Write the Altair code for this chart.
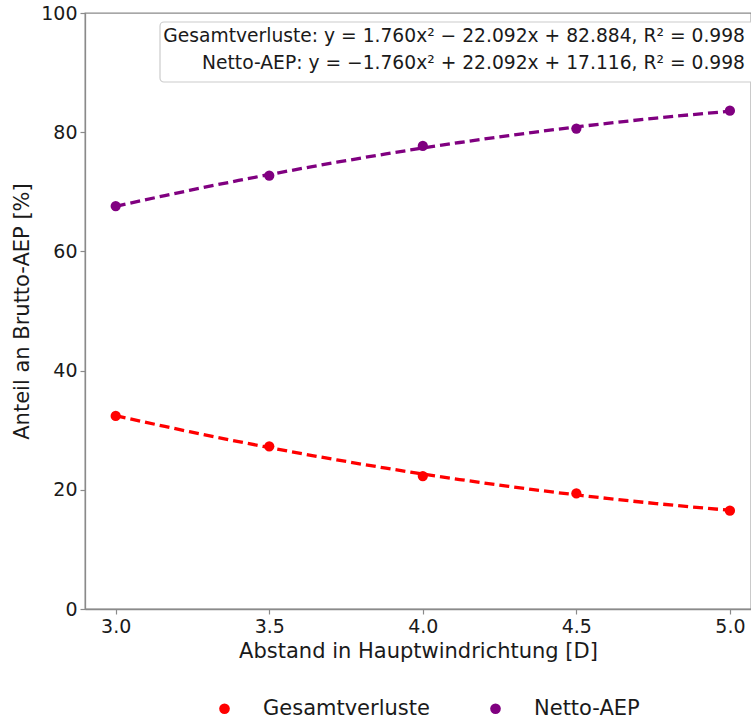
import altair as alt
import pandas as pd

# --- data ---
abstand = [3.0, 3.5, 4.0, 4.5, 5.0]
gesamtverluste = [32.4, 27.3, 22.3, 19.4, 16.5]
netto_aep = [67.6, 72.7, 77.7, 80.6, 83.6]
series_names = ["Gesamtverluste", "Netto-AEP"]
series_colors = ["#ff0000", "#800080"]
x_ticks = [3.0, 3.5, 4.0, 4.5, 5.0]
y_ticks = [0, 20, 40, 60, 80, 100]
annot_lines = [
    "Gesamtverluste: y = 1.760x² − 22.092x + 82.884, R² = 0.998",
    "Netto-AEP: y = −1.760x² + 22.092x + 17.116, R² = 0.998",
]

rows = []
for xv, g, n in zip(abstand, gesamtverluste, netto_aep):
    rows.append({"x": xv, "value": g, "series": series_names[0]})
    rows.append({"x": xv, "value": n, "series": series_names[1]})
df = pd.DataFrame(rows)

FONT = "DejaVu Sans"
W, H = 666, 596

xscale = alt.Scale(domain=[2.9, 5.0687], nice=False, zero=False)
yscale = alt.Scale(domain=[0, 100], nice=False)
cscale = alt.Scale(domain=series_names, range=series_colors)

x_enc = alt.X(
    "x:Q", scale=xscale,
    axis=alt.Axis(values=x_ticks, format=".1f", title="Abstand in Hauptwindrichtung [D]",
                  labelPadding=3, titlePadding=4),
)
y_enc = alt.Y(
    "value:Q", scale=yscale,
    axis=alt.Axis(values=y_ticks, title="Anteil an Brutto-AEP [%]",
                  labelPadding=3, titlePadding=8),
)

base = alt.Chart(df)

fit_layers = []
for name, col in zip(series_names, series_colors):
    fit_layers.append(
        base.transform_filter(alt.datum.series == name)
        .transform_regression("x", "value", method="poly", order=2, extent=[3.0, 5.0])
        .mark_line(strokeDash=[10, 5], strokeWidth=3.3, color=col)
        .encode(x=x_enc, y=y_enc)
    )

points = base.mark_circle(size=105, opacity=1).encode(
    x=x_enc,
    y=y_enc,
    color=alt.Color(
        "series:N", scale=cscale,
        legend=alt.Legend(
            title=None, orient="none", direction="horizontal",
            legendX=129, legendY=685, symbolType="circle", symbolSize=113,
            labelFontSize=21, labelOffset=28, columnPadding=55, labelLimit=400,
            labelFont=FONT, labelColor="#1a1a1a",
        ),
    ),
)

box = alt.Chart(pd.DataFrame({"a": [0]})).mark_rect(
    fill="white", stroke="#cccccc", strokeWidth=1.2, cornerRadius=4
).encode(
    x=alt.value(75), x2=alt.value(690), y=alt.value(9), y2=alt.value(69)
)

annot_layers = []
for i, (txt, yy) in enumerate(zip(annot_lines, [23, 50])):
    annot_layers.append(
        alt.Chart(pd.DataFrame({"txt": [txt]})).mark_text(
            align="right", baseline="middle", font=FONT, fontSize=18.7, color="#1a1a1a"
        ).encode(x=alt.value(660), y=alt.value(yy), text="txt:N")
    )

chart = alt.layer(*fit_layers, points, box, *annot_layers).properties(
    width=W, height=H,
    background="white",
    autosize=alt.AutoSizeParams(type="none"),
    padding={"left": 85, "top": 13, "right": 0, "bottom": 111},
).configure_view(
    stroke="#8a8a8a", strokeWidth=1.3
).configure_axis(
    grid=False, labelFont=FONT, titleFont=FONT, labelFontSize=19, titleFontSize=21,
    titleFontWeight="normal", labelColor="#1a1a1a", titleColor="#1a1a1a",
    domainColor="#8a8a8a", domainWidth=1.3, tickColor="#8a8a8a", tickSize=5, tickWidth=1.2,
)

chart.save("out.html", embed_options={"renderer": "svg", "actions": False})
